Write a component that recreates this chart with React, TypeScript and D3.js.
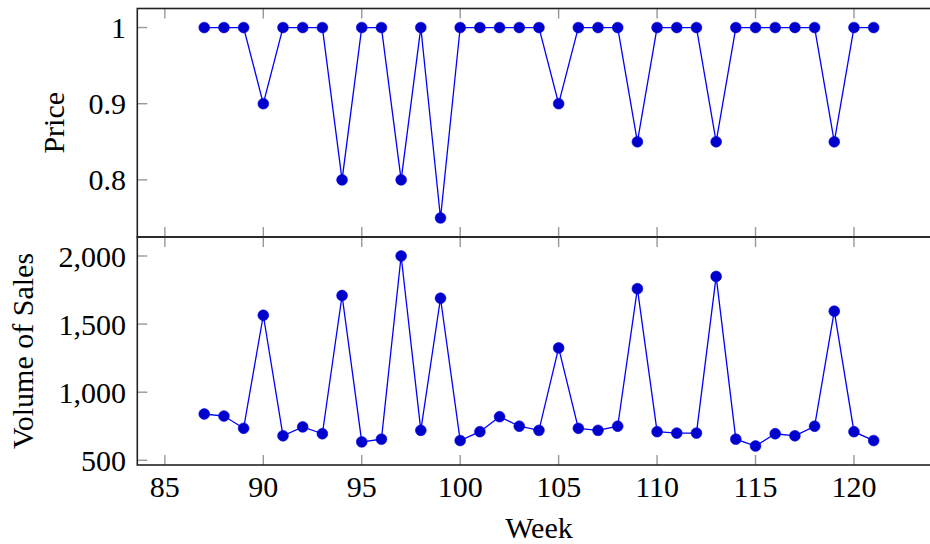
import React from "react";
import * as d3 from "d3";

const weeks: number[] = d3.range(87, 122);
const price: number[] = [
  1, 1, 1, 0.9, 1, 1, 1, 0.8, 1, 1, 0.8, 1, 0.75, 1, 1, 1, 1, 1, 0.9, 1, 1, 1,
  0.85, 1, 1, 1, 0.85, 1, 1, 1, 1, 1, 0.85, 1, 1,
];
const sales: number[] = [
  840, 825, 735, 1565, 680, 745, 695, 1710, 635, 655, 2000, 720, 1690, 645, 710,
  820, 750, 720, 1325, 735, 720, 750, 1760, 710, 700, 700, 1850, 655, 605, 695,
  680, 750, 1595, 710, 645,
];
const xTicks: number[] = [85, 90, 95, 100, 105, 110, 115, 120];
const priceTicks: number[] = [0.8, 0.9, 1];
const salesTicks: number[] = [500, 1000, 1500, 2000];

const FONT = "Liberation Serif";
const FS = 30;
const textStyle = { fontFamily: "'Liberation Serif', FreeSerif, serif", fontSize: FS };

function enlarge(vals: number[]): [number, number] {
  const lo = d3.min(vals) as number;
  const hi = d3.max(vals) as number;
  const r = hi - lo;
  return [lo - 0.1 * r, hi + 0.1 * r];
}

export default function App() {
  const left = 137.3;
  const right = 940.6;
  const topY0 = 8.5;
  const midY = 237;
  const botY1 = 465;
  const tickLen = 10;

  const x = d3.scaleLinear().domain(enlarge(weeks)).range([left, right]);
  const yP = d3.scaleLinear().domain(enlarge(price)).range([midY, topY0]);
  const yS = d3.scaleLinear().domain(enlarge(sales)).range([botY1, midY]);

  const fmt = d3.format(",");

  const panel = (
    key: string,
    y: d3.ScaleLinear<number, number>,
    vals: number[],
    yTicks: number[],
    yFmt: (v: number) => string,
    y0: number,
    y1: number
  ) => {
    const line = d3
      .line<number>()
      .x((_, i) => x(weeks[i]))
      .y((d) => y(d));
    return (
      <g key={key}>
        {xTicks.map((t) => (
          <g key={"xt" + t} stroke="#999" strokeWidth={1.4}>
            <line x1={x(t)} x2={x(t)} y1={y0} y2={y0 + tickLen} />
            <line x1={x(t)} x2={x(t)} y1={y1} y2={y1 - tickLen} />
          </g>
        ))}
        {yTicks.map((t) => (
          <g key={"yt" + t}>
            <line x1={left} x2={left + tickLen} y1={y(t)} y2={y(t)} stroke="#999" strokeWidth={1.4} />
            <line x1={right} x2={right - tickLen} y1={y(t)} y2={y(t)} stroke="#999" strokeWidth={1.4} />
            <text
              x={126}
              y={y(t)}
              dy="0.35em"
              textAnchor="end"
              fontFamily={FONT}
              style={textStyle}
              fill="#000"
            >
              {yFmt(t)}
            </text>
          </g>
        ))}
        <path d={line(vals) || ""} fill="none" stroke="#0000ff" strokeWidth={1.3} />
        {vals.map((v, i) => (
          <circle
            key={"c" + i}
            cx={x(weeks[i])}
            cy={y(v)}
            r={5.4}
            fill="#0000cc"
            stroke="#0000e6"
            strokeWidth={0.6}
          />
        ))}
        <rect
          x={left}
          y={y0}
          width={right - left}
          height={y1 - y0}
          fill="none"
          stroke="#222"
          strokeWidth={1.6}
        />
      </g>
    );
  };

  return (
    <svg
      width={930}
      height={544}
      fontFamily={FONT}
      style={{ position: "absolute", left: 0, top: 0, background: "#fff", fontFamily: "'Liberation Serif', FreeSerif, serif" }}
    >
      <rect x={0} y={0} width={930} height={544} fill="#fff" />
      {panel("top", yP, price, priceTicks, (v) => String(v), topY0, midY)}
      {panel("bot", yS, sales, salesTicks, (v) => fmt(v), midY, botY1)}
      {xTicks.map((t) => (
        <text
          key={"xl" + t}
          x={x(t)}
          y={497}
          textAnchor="middle"
          fontFamily={FONT}
          style={textStyle}
          fill="#000"
        >
          {t}
        </text>
      ))}
      <text
        x={(left + right) / 2}
        y={538}
        textAnchor="middle"
        fontFamily={FONT}
        style={textStyle}
        fill="#000"
      >
        Week
      </text>
      <text
        transform={`translate(64, ${(topY0 + midY) / 2}) rotate(-90)`}
        textAnchor="middle"
        fontFamily={FONT}
        style={textStyle}
        fill="#000"
      >
        Price
      </text>
      <text
        transform={`translate(33, ${(midY + botY1) / 2}) rotate(-90)`}
        textAnchor="middle"
        fontFamily={FONT}
        style={textStyle}
        fill="#000"
      >
        Volume of Sales
      </text>
    </svg>
  );
}
